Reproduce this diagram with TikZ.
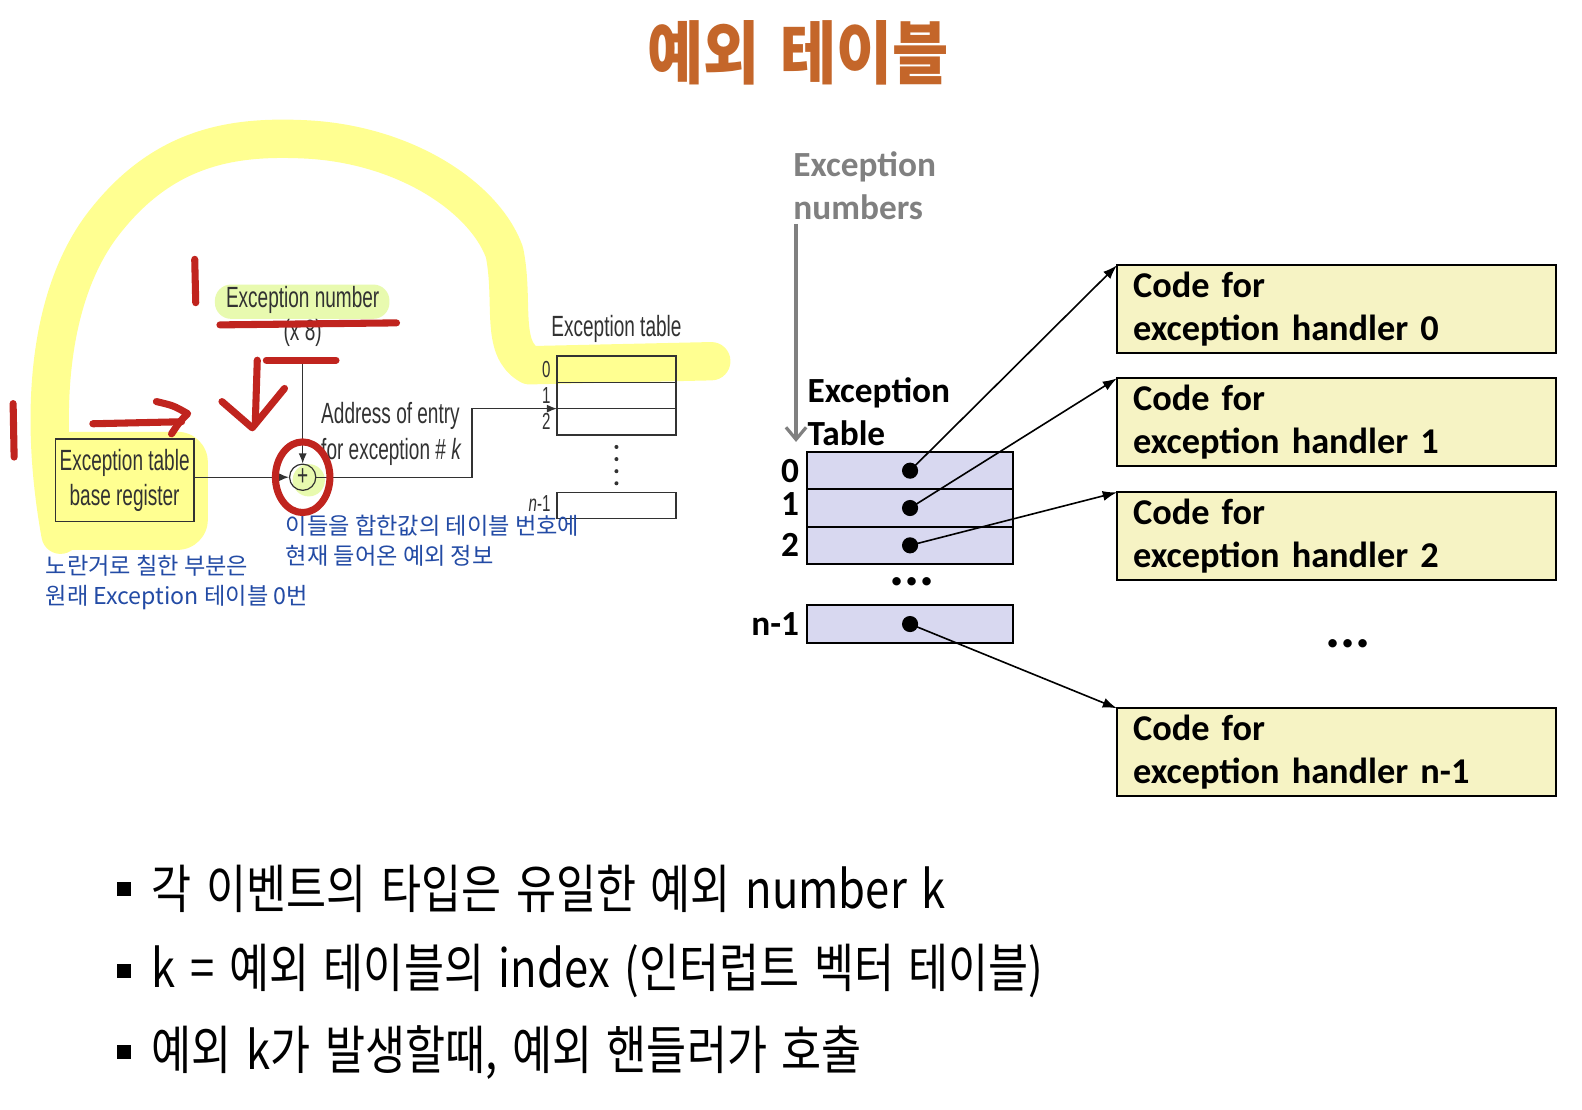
\documentclass[tikz,border=0pt]{standalone}
\usepackage{fontspec}
\setmainfont{Liberation Sans}
\newfontfamily\krfont[FakeStretch=0.83,WordSpace=1.5]{Noto Sans CJK KR}
\newfontfamily\krtitle[FakeStretch=0.89,WordSpace=1.5]{Noto Sans CJK KR}
\newfontfamily\krnote{Noto Sans CJK KR}
\newfontfamily\narrowfont[FakeStretch=0.65]{Liberation Sans}
\newfontfamily\calfont{Carlito}
\usetikzlibrary{positioning,arrows.meta}
\definecolor{titleorange}{RGB}{196,102,42}
\definecolor{noteblue}{RGB}{35,75,165}
\definecolor{penred}{RGB}{192,36,30}
\definecolor{hiyellow}{RGB}{255,255,145}
\definecolor{higreen}{RGB}{232,250,175}
\definecolor{rowblue}{RGB}{216,216,240}
\definecolor{codeyellow}{RGB}{246,243,196}
\definecolor{figgray}{RGB}{50,50,50}
\definecolor{numgray}{RGB}{128,128,128}
\tikzset{
  fig/.style={font=\narrowfont\fontsize{14.5}{17.5}\selectfont, text=figgray, inner sep=1pt},
  figidx/.style={font=\narrowfont\fontsize{11.5}{13}\selectfont, text=figgray, inner sep=1pt},
  figline/.style={figgray, line width=0.7pt},
  ltrow/.style={draw=figgray, line width=0.7pt, minimum width=59pt, minimum height=13pt, inner sep=0pt, outer sep=0pt},
  pen/.style={penred, line width=3.5pt, line cap=round, line join=round},
  hilite/.style={hiyellow, line width=19pt, line cap=round, line join=round},
  bold/.style={font=\calfont\bfseries\fontsize{17.5}{21.5}\selectfont},
  erow/.style={draw, line width=0.9pt, fill=rowblue, minimum width=102pt, minimum height=18.5pt, inner sep=0pt, outer sep=0pt},
  handler/.style={draw, line width=0.9pt, fill=codeyellow, anchor=north west, text width=201.5pt, inner xsep=8pt, minimum height=43.5pt, align=left, outer sep=0pt, font=\calfont\bfseries\fontsize{18}{21.5}\selectfont},
  ptr/.style={line width=0.8pt, -{Latex[length=7pt,width=5pt]}},
  more/.style={font=\calfont\bfseries\fontsize{28}{30}\selectfont},
  note/.style={font=\krnote\fontsize{11.5}{15}\selectfont, text=noteblue, align=left, anchor=west, inner sep=0pt},
  bullet/.style={font=\krfont\fontsize{26}{30}\selectfont, anchor=west, inner sep=0pt}
}
\begin{document}
\begin{tikzpicture}[x=0.5pt,y=-0.5pt]
\useasboundingbox[fill=white] (0,0) rectangle (1568,1100);
\node[font=\krtitle\bfseries\fontsize{34}{38}\selectfont, text=titleorange] (title) at (791,52) {예외 테이블};

% highlighter marks
\draw[hilite] (60,530) .. controls (40,420) and (45,300) .. (100,225) .. controls (160,145) and (230,135) .. (300,138) .. controls (400,142) and (480,195) .. (500,250) .. controls (510,300) and (495,345) .. (525,362) -- (705,358);
\fill[hiyellow, rounded corners=15pt] (42,428) rectangle (206,545);
\fill[higreen, rounded corners=8pt] (213,282) rectangle (386,316);
\fill[higreen] (306,476) circle[radius=8pt];

% left figure
\node[fig] (exnum) at (300,297) {Exception number};
\node[fig] (times) at (300,330) {(x 8)};
\coordinate (numtop) at (300,358);
\node[fig, draw=figgray, line width=0.6pt, circle, minimum size=13pt, inner sep=0pt] (plus) at (300,473) {+};
\node[fig, draw=figgray, line width=0.8pt, minimum width=68.5pt, minimum height=41pt, align=center] (basereg) at (123.5,476) {Exception table\\base register};
\node[fig, align=left, anchor=west] (addr) at (316,430) {Address of entry\\for exception \# \textit{k}};
\node[fig] (tablbl) at (611,326) {Exception table};
\node[ltrow, anchor=north west] (row0) at (552,353) {};
\node[ltrow, below=0pt of row0] (row1) {};
\node[ltrow, below=0pt of row1] (row2) {};
\node[ltrow, anchor=north west] (rown) at (552,488) {};
\node[figidx, left=2pt of row0.west] {0};
\node[figidx, left=2pt of row1.west] {1};
\node[figidx, left=2pt of row2.west] {2};
\node[figidx, left=2pt of rown.west, yshift=1pt] {\textit{n}-1};
\foreach \y in {443,455,467,479}
  \fill[figgray] (611,\y) circle[radius=1pt];
\coordinate (bend) at (468,473);
\draw[figline,-{Latex[length=5pt,width=4pt]}] (numtop) -- (plus);
\draw[figline,-{Latex[length=5pt,width=4pt]}] (basereg.east |- plus) -- (plus);
\draw[figline,-{Latex[length=5pt,width=4pt]}] (plus) -- (bend) |- (row2.north west);

% notes
\node[note] (note1) at (283,536) {이들을 합한값의 테이블 번호에\\현재 들어온 예외 정보};
\node[note] (note2) at (45,577) {노란거로 칠한 부분은\\원래 Exception 테이블 0번};

% pen marks
\draw[pen] (193,257) -- (194,300);
\draw[pen] (13,400) -- (14,453);
\draw[pen] (218,322) -- (393,320);
\draw[pen] (264,357) -- (333,357);
\draw[pen] (92,420) -- (180,418);
\draw[pen] (155,398) .. controls (172,402) .. (186,410) .. controls (178,418) .. (170,430);
\draw[pen] (255,357) -- (253,420);
\draw[pen] (220,398) -- (250,424) -- (282,385);
\draw[pen] (300,473) ellipse (27 and 35);

% right figure
\node[bold, text=numgray, align=left, anchor=west, inner sep=0pt] (exnums) at (786,184) {Exception\\numbers};
\coordinate (arrtop) at (789,222);
\coordinate (arrbot) at (789,438);
\draw[numgray, line width=1.6pt, -{Straight Barb[length=6pt,width=10pt]}] (arrtop) -- (arrbot);
\node[bold, align=left, anchor=west, inner sep=0pt] (extab) at (800,408) {Exception\\Table};
\node[erow, anchor=north west] (r0) at (800,448) {};
\node[erow, below=0pt of r0] (r1) {};
\node[erow, below=0pt of r1] (r2) {};
\node[erow, below=20.5pt of r2] (rn) {};
\node[bold, left=0.5pt of r0.west] {0};
\node[bold, left=0.5pt of r1.west, yshift=2pt] {1};
\node[bold, left=0.5pt of r2.west] {2};
\node[bold, left=0.5pt of rn.west] {n-1};
\foreach \r in {r0,r1,r2,rn}
  \fill (\r.center) circle[radius=4pt];
\node[more] (tdots) at (904,577) {...};

\node[handler] (h0) at (1107,263) {Code for\\exception handler 0};
\node[handler] (h1) at (1107,375) {Code for\\exception handler 1};
\node[handler] (h2) at (1107,488) {Code for\\exception handler 2};
\node[handler] (hn) at (1107,702) {Code for\\exception handler n-1};
\node[more] (hdots) at (1336,638) {...};
\draw[ptr] (r0.center) -- (h0.north west);
\draw[ptr] (r1.center) -- (h1.north west);
\draw[ptr] (r2.center) -- (h2.north west);
\draw[ptr] (rn.center) -- (hn.north west);

% bullets
\fill (116,874) rectangle (130,888);
\fill (116,955) rectangle (130,969);
\fill (116,1036) rectangle (130,1050);
\node[bullet] (b1) at (150,881) {각 이벤트의 타입은 유일한 예외 number k};
\node[bullet] (b2) at (150,962) {k = 예외 테이블의 index (인터럽트 벡터 테이블)};
\node[bullet] (b3) at (150,1043) {예외 k가 발생할때, 예외 핸들러가 호출};
\end{tikzpicture}
\end{document}
